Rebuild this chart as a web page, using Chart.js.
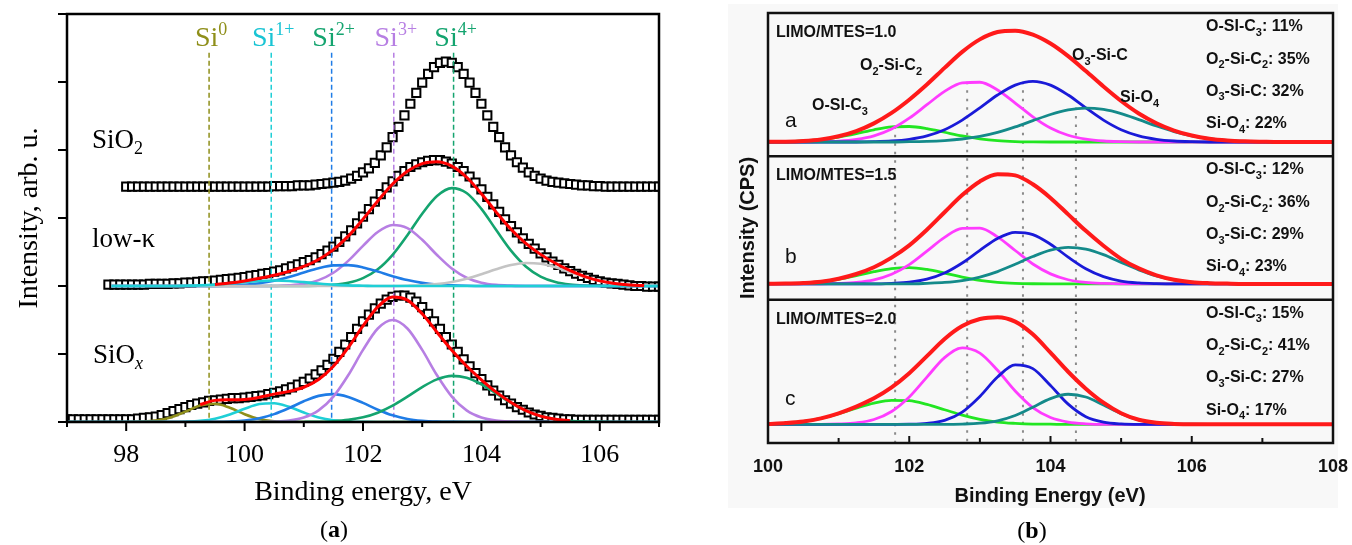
<!DOCTYPE html>
<html>
<head>
<meta charset="utf-8">
<script src="https://cdn.jsdelivr.net/npm/chart.js@4.4.1/dist/chart.umd.min.js"></script>
<style>
  html, body { margin: 0; padding: 0; background: #fff; }
  body { width: 1352px; height: 545px; position: relative; overflow: hidden; }
  #bgB { position: absolute; left: 728px; top: 4px; width: 610px; height: 504px; background: #f8f8f8; }
  canvas { position: absolute; top: 0; }
  #chartA { left: 0; }
  #chartB { left: 680px; }
</style>
</head>
<body>
<div id="bgB"></div>
<canvas id="chartA" width="680" height="545"></canvas>
<canvas id="chartB" width="672" height="545"></canvas>
<script>
// ================= panel (a): Si 2p, three samples =================
// measured points, one every 0.1 eV, heights above each spectrum's own baseline
const sio2Start = 98.0;
const sio2Signal = [
  0, 0, 0, 0, 0, 0, 0, 0, 0, 0,
  0, 0, 0, 0, 0, 0, 0, 0, 0, 0,
  0, 0, 0, 0, 0, 0.01, 0.01, 0.01, 0.01, 0.02,
  0.02, 0.02, 0.03, 0.04, 0.05, 0.06, 0.07, 0.09, 0.12, 0.16,
  0.21, 0.27, 0.35, 0.46, 0.58, 0.73, 0.88, 1.05, 1.22, 1.38,
  1.53, 1.66, 1.76, 1.82, 1.84, 1.82, 1.76, 1.66, 1.53, 1.38,
  1.22, 1.05, 0.88, 0.73, 0.58, 0.46, 0.36, 0.28, 0.21, 0.16,
  0.12, 0.09, 0.07, 0.06, 0.05, 0.04, 0.03, 0.02, 0.02, 0.01,
  0.01, 0, 0, 0, 0, 0, 0, 0, 0, 0,
  0
];
const lowkStart = 97.7;
const lowkSignal = [
  0.02, 0.02, 0.02,
  0.02, 0.02, 0.02, 0.02, 0.03, 0.03, 0.03, 0.03, 0.04, 0.04,
  0.05, 0.05, 0.06, 0.07, 0.07, 0.08, 0.09, 0.10, 0.11, 0.12,
  0.13, 0.15, 0.16, 0.18, 0.19, 0.21, 0.23, 0.26, 0.29, 0.32,
  0.35, 0.38, 0.42, 0.47, 0.52, 0.58, 0.65, 0.73, 0.82, 0.92,
  1.02, 1.13, 1.24, 1.35, 1.45, 1.54, 1.62, 1.69, 1.75, 1.79,
  1.82, 1.84, 1.85, 1.85, 1.83, 1.80, 1.75, 1.69, 1.61, 1.52,
  1.42, 1.31, 1.20, 1.09, 0.98, 0.88, 0.79, 0.70, 0.62, 0.55,
  0.48, 0.42, 0.36, 0.31, 0.26, 0.22, 0.18, 0.15, 0.12, 0.09,
  0.07, 0.05, 0.04, 0.03, 0.02, 0.01, 0, 0, -0.01, -0.01,
  -0.01
];
const sioxStart = 97.0;
const sioxSignal = [
  0.04, 0.04, 0.04, 0.04, 0.04, 0.04, 0.04, 0.04, 0.04, 0.04,
  0.04, 0.04, 0.05, 0.06, 0.07, 0.08, 0.10, 0.13, 0.16, 0.19,
  0.22, 0.25, 0.27, 0.29, 0.31, 0.32, 0.33, 0.34, 0.35, 0.35,
  0.36, 0.37, 0.38, 0.39, 0.41, 0.43, 0.45, 0.48, 0.51, 0.55,
  0.59, 0.64, 0.70, 0.76, 0.84, 0.93, 1.03, 1.14, 1.25, 1.37,
  1.48, 1.58, 1.67, 1.74, 1.80, 1.84, 1.86, 1.86, 1.83, 1.77,
  1.69, 1.59, 1.48, 1.37, 1.25, 1.14, 1.03, 0.92, 0.82, 0.72,
  0.63, 0.54, 0.46, 0.39, 0.32, 0.27, 0.22, 0.18, 0.14, 0.11,
  0.09, 0.07, 0.06, 0.05, 0.04, 0.04, 0.03, 0.03, 0.03, 0.03,
  0.03, 0.03, 0.03, 0.03, 0.03, 0.03, 0.03, 0.03, 0.03, 0.03,
  0.03
];
const sio2Offset = 3.46;
const lowkOffset = 2;
const sioxOffset = 0;

// fitted curves, every 0.25 eV from 97 to 107 (rows = 97, 98, ... 106, then 107)
const gridA = Array.from({ length: 41 }, (_, i) => 97 + i * 0.25);
const lowkFit = [
  null, null, null, null,  null, null, null, null,  null, null, 0.022, 0.044,
  0.075, 0.113, 0.157, 0.215,  0.288, 0.39, 0.535, 0.733,  0.983, 1.251, 1.50, 1.689,
  1.799, 1.827, 1.763, 1.599,  1.357, 1.086, 0.834, 0.627,  0.465, 0.334, 0.225, 0.139,
  0.075, 0.037, 0.016, 0.006,  null
];
const lowkSi1 = [
  null, null, null, 0,  0, 0, 0, 0,  0.004, 0.009, 0.02, 0.037,  0.057, 0.073, 0.08, 0.073,
  0.057, 0.037, 0.02, 0.009,  0.004, 0, 0, 0,  0, 0, 0, 0,  0, 0, 0, 0,  0, 0, 0, 0,  0, 0, 0, 0,  0
];
const lowkSi2 = [
  null, null, null, 0,  0, 0, 0, 0,  0, 0, 0.002, 0.007,  0.018, 0.04, 0.077, 0.132,
  0.199, 0.262, 0.303, 0.307,  0.273, 0.212, 0.145, 0.087,  0.046, 0.021, 0.009, 0.003,
  0, 0, 0, 0,  0, 0, 0, 0,  0, 0, 0, 0,  0
];
const lowkSi3 = [
  null, null, null, 0,  0, 0, 0, 0,  0, 0, 0, 0,  0, 0, 0, 0.01,
  0.032, 0.086, 0.195, 0.37,  0.591, 0.794, 0.897, 0.851,  0.679, 0.456, 0.257, 0.122,
  0.049, 0.016, 0.005, 0,  0, 0, 0, 0,  0, 0, 0, 0,  0
];
const lowkSi4 = [
  null, null, null, 0,  0, 0, 0, 0,  0, 0, 0, 0,  0, 0, 0, 0,
  0.002, 0.005, 0.017, 0.047,  0.115, 0.245, 0.458, 0.746,  1.063, 1.323, 1.439, 1.367,
  1.134, 0.823, 0.52, 0.288,  0.139, 0.059, 0.022, 0.007,  0.002, 0, 0, 0,  0
];
const lowkExtra = [
  null, null, null, 0,  0, 0, 0, 0,  0, 0, 0, 0,  0, 0, 0, 0,  0, 0, 0, 0,
  0, 0, 0, 0.004,  0.011, 0.027, 0.058, 0.107,  0.174, 0.247, 0.309, 0.339,
  0.326, 0.275, 0.203, 0.132,  0.075, 0.037, 0.016, 0.006,  0.002
];
const sioxFit = [
  null, null, null, null,  null, null, null, null,  null, 0.257, 0.318, 0.327,
  0.331, 0.363, 0.41, 0.45,  0.511, 0.626, 0.821, 1.094,  1.412, 1.693, 1.838, 1.792,
  1.591, 1.32, 1.055, 0.823,  0.621, 0.439, 0.286, 0.166,  0.087, 0.041, 0.017, null,
  null, null, null, null,  null
];
const sioxSi0 = [
  0, 0, 0, 0,  0, 0.005, 0.021, 0.067,  0.152, 0.241, 0.268, 0.209,  0.115, 0.044, 0.012, 0.002,
  0, 0, 0, 0,  0, 0, 0, 0,  0, 0, 0, 0,  0, 0, 0, 0,  0, 0, 0, 0,  0, 0, 0, 0,  0
];
const sioxSi1 = [
  0, 0, 0, 0,  0, 0, 0, 0,  0.004, 0.016, 0.048, 0.11,  0.194, 0.264, 0.276, 0.223,
  0.139, 0.067, 0.025, 0.007,  0.002, 0, 0, 0,  0, 0, 0, 0,  0, 0, 0, 0,  0, 0, 0, 0,  0, 0, 0, 0,  0
];
const sioxSi2 = [
  0, 0, 0, 0,  0, 0, 0, 0,  0, 0, 0.002, 0.008,  0.022, 0.055, 0.116, 0.204,
  0.305, 0.384, 0.41, 0.369,  0.281, 0.181, 0.098, 0.045,  0.018, 0.006, 0.002, 0,
  0, 0, 0, 0,  0, 0, 0, 0,  0, 0, 0, 0,  0
];
const sioxSi3 = [
  0, 0, 0, 0,  0, 0, 0, 0,  0, 0, 0, 0,  0, 0, 0.006, 0.021,
  0.066, 0.171, 0.374, 0.687,  1.06, 1.375, 1.5, 1.375,  1.06, 0.687, 0.374, 0.171,
  0.066, 0.021, 0.006, 0,  0, 0, 0, 0,  0, 0, 0, 0,  0
];
const sioxSi4 = [
  0, 0, 0, 0,  0, 0, 0, 0,  0, 0, 0, 0,  0, 0, 0, 0,
  0.001, 0.004, 0.012, 0.031,  0.069, 0.137, 0.24, 0.372,  0.513, 0.627, 0.679, 0.652,
  0.555, 0.418, 0.28, 0.166,  0.087, 0.041, 0.017, 0.006,  0.002, 0, 0, 0,  0
];

const stateNames = ['0', '1+', '2+', '3+', '4+'];
const stateEnergies = [99.4, 100.45, 101.47, 102.52, 103.53];
const stateLineTop = 5.43;
const xMajorA = [98, 100, 102, 104, 106];
const xMinorA = [97, 99, 101, 103, 105, 107];
const yTicksA = [0, 1, 2, 3, 4, 5, 6];

// ================= panel (b): three LIMO/MTES ratios =================
const gridB = Array.from({ length: 33 }, (_, i) => 100 + i * 0.25);
const ratioLabels = ['LIMO/MTES=1.0', 'LIMO/MTES=1.5', 'LIMO/MTES=2.0'];
const panelLetters = ['a', 'b', 'c'];
const shareOSiC3 = [11, 12, 15];
const shareO2SiC2 = [35, 36, 41];
const shareO3SiC = [32, 29, 27];
const shareSiO4 = [22, 23, 17];
const baseB = [2.10, 1.11, 0.13];

// rows = 100, 101, ... 107 eV (4 points each), then 108
const fitB = [
  [0.001, 0.002, 0.007, 0.018, 0.04, 0.076, 0.13, 0.203, 0.295, 0.401, 0.517, 0.629,
   0.716, 0.767, 0.777, 0.749, 0.687, 0.599, 0.495, 0.387, 0.286, 0.199, 0.131, 0.08,
   0.045, 0.023, 0.011, 0.005, 0.002, 0, 0, 0, 0],
  [0.001, 0.002, 0.006, 0.015, 0.036, 0.069, 0.116, 0.183, 0.269, 0.378, 0.5, 0.62,
   0.715, 0.765, 0.757, 0.695, 0.6, 0.485, 0.37, 0.266, 0.175, 0.108, 0.06, 0.029,
   0.012, 0.005, 0.002, 0, 0, 0, 0, 0, 0],
  [0.003, 0.009, 0.02, 0.042, 0.077, 0.124, 0.182, 0.258, 0.357, 0.476, 0.596, 0.686,
   0.735, 0.748, 0.717, 0.628, 0.5, 0.367, 0.249, 0.151, 0.078, 0.032, 0.011, 0.003,
   0, 0, 0, 0, 0, 0, 0, 0, 0]
];
const oSiC3B = [
  [0.001, 0.002, 0.007, 0.016, 0.034, 0.058, 0.085, 0.105, 0.108, 0.094, 0.068, 0.042,
   0.022, 0.009, 0.003, 0.001, 0, 0, 0, 0, 0, 0, 0, 0, 0, 0, 0, 0, 0, 0, 0, 0, 0],
  [0.001, 0.002, 0.006, 0.015, 0.032, 0.057, 0.085, 0.107, 0.114, 0.101, 0.076, 0.048,
   0.025, 0.011, 0.004, 0.001, 0, 0, 0, 0, 0, 0, 0, 0, 0, 0, 0, 0, 0, 0, 0, 0, 0],
  [0.003, 0.009, 0.02, 0.042, 0.074, 0.113, 0.148, 0.168, 0.165, 0.139, 0.102, 0.064,
   0.035, 0.016, 0.007, 0.002, 0.001, 0, 0, 0, 0, 0, 0, 0, 0, 0, 0, 0, 0, 0, 0, 0, 0]
];
const o2SiC2B = [
  [0, 0, 0, 0.002, 0.006, 0.018, 0.043, 0.091, 0.166, 0.26, 0.353, 0.413,
   0.417, 0.363, 0.272, 0.176, 0.098, 0.047, 0.02, 0.007, 0.002, 0, 0, 0,
   0, 0, 0, 0, 0, 0, 0, 0, 0],
  [0, 0, 0, 0, 0.003, 0.01, 0.028, 0.067, 0.135, 0.229, 0.325, 0.388,
   0.389, 0.328, 0.233, 0.139, 0.07, 0.029, 0.01, 0.003, 0, 0, 0, 0,
   0, 0, 0, 0, 0, 0, 0, 0, 0],
  [0, 0, 0, 0, 0.003, 0.011, 0.034, 0.09, 0.191, 0.33, 0.466, 0.534,
   0.497, 0.377, 0.233, 0.117, 0.048, 0.016, 0.004, 0, 0, 0, 0, 0,
   0, 0, 0, 0, 0, 0, 0, 0, 0]
];
const o3SiCB = [
  [0, 0, 0, 0, 0, 0, 0.002, 0.007, 0.019, 0.043, 0.086, 0.153,
   0.238, 0.328, 0.397, 0.423, 0.397, 0.328, 0.238, 0.153, 0.086, 0.043, 0.019, 0.007,
   0.002, 0, 0, 0, 0, 0, 0, 0, 0],
  [0, 0, 0, 0, 0, 0, 0, 0.004, 0.012, 0.033, 0.076, 0.146,
   0.234, 0.317, 0.36, 0.344, 0.277, 0.187, 0.106, 0.051, 0.02, 0.007, 0.002, 0,
   0, 0, 0, 0, 0, 0, 0, 0, 0],
  [0, 0, 0, 0, 0, 0, 0, 0, 0.001, 0.007, 0.028, 0.086,
   0.195, 0.33, 0.415, 0.389, 0.271, 0.141, 0.054, 0.016, 0.003, 0, 0, 0,
   0, 0, 0, 0, 0, 0, 0, 0, 0]
];
const siO4B = [
  [0, 0, 0, 0, 0, 0, 0, 0, 0.002, 0.004, 0.01, 0.021,
   0.039, 0.067, 0.105, 0.149, 0.192, 0.224, 0.237, 0.227, 0.198, 0.156, 0.112, 0.073,
   0.043, 0.023, 0.011, 0.005, 0.002, 0, 0, 0, 0],
  [0, 0, 0, 0, 0, 0, 0, 0, 0, 0.004, 0.01, 0.023,
   0.048, 0.086, 0.137, 0.191, 0.235, 0.255, 0.243, 0.204, 0.15, 0.098, 0.056, 0.028,
   0.012, 0.005, 0.002, 0, 0, 0, 0, 0, 0],
  [0, 0, 0, 0, 0, 0, 0, 0, 0, 0, 0, 0.002,
   0.008, 0.025, 0.062, 0.12, 0.18, 0.21, 0.191, 0.135, 0.075, 0.032, 0.011, 0.003,
   0.001, 0, 0, 0, 0, 0, 0, 0, 0]
];
const guideEnergiesB = [101.8, 102.82, 103.61, 104.36];
const guideTopsB = [2.21, 2.52, 2.52, 2.34];
const xMajorB = [100, 102, 104, 106, 108];
const xMinorB = [101, 103, 105, 107];

// ---------------- helpers ----------------
const SERIF = '"Liberation Serif", "Times New Roman", serif';
const SANS = '"Liberation Sans", Arial, sans-serif';

function toPoints(xs, ys, offset) {
  return xs.map((x, i) => ({ x: x, y: ys[i] === null ? null : ys[i] + offset }));
}
function stepPoints(start, ys, offset) {
  return ys.map((y, i) => ({ x: +(start + i * 0.1).toFixed(2), y: y + offset }));
}
function curve(data, color, width, order) {
  return {
    data: data, borderColor: color, borderWidth: width, pointRadius: 0,
    cubicInterpolationMode: 'monotone', fill: false, order: order
  };
}
function markers(data) {
  return {
    data: data, showLine: false, pointStyle: 'rect', pointRadius: 5.8,
    pointBackgroundColor: '#ffffff', pointBorderColor: '#000000', pointBorderWidth: 2,
    order: 10
  };
}
function drawRich(ctx, parts, x, y, o) {
  const small = Math.round(o.size * 0.66);
  const fontFor = (k) => (k === 'subit' ? 'italic ' : '') + (o.weight || 'normal') + ' ' +
    (k ? small : o.size) + 'px ' + o.family;
  let total = 0;
  for (const [t, k] of parts) { ctx.font = fontFor(k); total += ctx.measureText(t).width; }
  let cx = o.align === 'center' ? x - total / 2 : x;
  ctx.fillStyle = o.color;
  ctx.textAlign = 'left';
  ctx.textBaseline = 'alphabetic';
  for (const [t, k] of parts) {
    ctx.font = fontFor(k);
    let dy = 0;
    if (k === 'sup') dy = -o.size * 0.38;
    if (k === 'sub' || k === 'subit') dy = o.size * (o.subDrop || 0.22);
    ctx.fillText(t, cx, y + dy);
    cx += ctx.measureText(t).width;
  }
}

// ---------------- panel (a) chart ----------------
const colA = {
  fit: '#ff0000', si0: '#8f8f1a', si1: '#1fcfd6', si2: '#1f7ce6', si3: '#b77fe3',
  si4: '#14a46f', extra: '#c4c4c4'
};
const guideColorsA = [colA.si0, colA.si1, colA.si2, colA.si3, colA.si4];
const labelColorsA = [colA.si0, '#19c4d4', colA.si4, colA.si3, colA.si4];

const datasetsA = [];
stateEnergies.forEach((e, i) => {
  datasetsA.push({
    data: [{ x: e, y: stateLineTop }, { x: e, y: 0 }], borderColor: guideColorsA[i],
    borderWidth: 1.5, borderDash: [5, 3], pointRadius: 0, order: 9
  });
});
datasetsA.push(markers(stepPoints(sio2Start, sio2Signal, sio2Offset)));
datasetsA.push(markers(stepPoints(lowkStart, lowkSignal, lowkOffset)));
datasetsA.push(markers(stepPoints(sioxStart, sioxSignal, sioxOffset)));
datasetsA.push(curve(toPoints(gridA, lowkSi4, lowkOffset), colA.si4, 2.6, 7));
datasetsA.push(curve(toPoints(gridA, lowkSi3, lowkOffset), colA.si3, 2.6, 6));
datasetsA.push(curve(toPoints(gridA, lowkSi2, lowkOffset), colA.si2, 2.6, 5));
datasetsA.push(curve(toPoints(gridA, lowkExtra, lowkOffset), colA.extra, 2.6, 4));
datasetsA.push(curve(toPoints(gridA, lowkSi1, lowkOffset), colA.si1, 2.6, 3));
datasetsA.push(curve(toPoints(gridA, sioxSi0, sioxOffset), colA.si0, 2.6, 7));
datasetsA.push(curve(toPoints(gridA, sioxSi1, sioxOffset), colA.si1, 2.6, 6));
datasetsA.push(curve(toPoints(gridA, sioxSi2, sioxOffset), colA.si2, 2.6, 5));
datasetsA.push(curve(toPoints(gridA, sioxSi3, sioxOffset), colA.si3, 2.6, 4));
datasetsA.push(curve(toPoints(gridA, sioxSi4, sioxOffset), colA.si4, 2.6, 3));
datasetsA.push(curve(toPoints(gridA, lowkFit, lowkOffset), colA.fit, 3, 1));
datasetsA.push(curve(toPoints(gridA, sioxFit, sioxOffset), colA.fit, 3, 1));

const decorA = {
  id: 'decorA',
  afterDraw(chart) {
    const { ctx, chartArea: area, scales: { x: sx, y: sy } } = chart;
    ctx.save();
    ctx.strokeStyle = '#000';
    ctx.lineWidth = 2.5;
    ctx.strokeRect(area.left, area.top, area.right - area.left, area.bottom - area.top);
    ctx.lineWidth = 2;
    ctx.beginPath();
    xMajorA.forEach(v => { const p = sx.getPixelForValue(v); ctx.moveTo(p, area.bottom); ctx.lineTo(p, area.bottom + 9); });
    xMinorA.forEach(v => { const p = sx.getPixelForValue(v); ctx.moveTo(p, area.bottom); ctx.lineTo(p, area.bottom + 5); });
    yTicksA.forEach(v => { const p = sy.getPixelForValue(v); ctx.moveTo(area.left, p); ctx.lineTo(area.left - 9, p); });
    ctx.stroke();

    ctx.fillStyle = '#000';
    ctx.font = '26px ' + SERIF;
    ctx.textAlign = 'center';
    ctx.textBaseline = 'alphabetic';
    xMajorA.forEach(v => ctx.fillText(String(v), sx.getPixelForValue(v), 462));
    ctx.font = '28px ' + SERIF;
    ctx.fillText('Binding energy, eV', (area.left + area.right) / 2, 500);

    ctx.save();
    ctx.translate(30, (area.top + area.bottom) / 2);
    ctx.rotate(-Math.PI / 2);
    ctx.textBaseline = 'middle';
    ctx.fillText('Intensity, arb. u.', 0, 0);
    ctx.restore();

    stateEnergies.forEach((e, i) => {
      drawRich(ctx, [['Si', ''], [stateNames[i], 'sup']], sx.getPixelForValue(e) + 2, 46,
        { size: 28, family: SERIF, color: labelColorsA[i], align: 'center' });
    });
    drawRich(ctx, [['SiO', ''], ['2', 'sub']], 92, 148, { size: 27, family: SERIF, color: '#000' });
    drawRich(ctx, [['low-\u03ba', '']], 92, 247, { size: 27, family: SERIF, color: '#000' });
    drawRich(ctx, [['SiO', ''], ['x', 'subit']], 93, 363, { size: 27, family: SERIF, color: '#000' });

    // (a)
    ctx.textAlign = 'left';
    ctx.font = '24px ' + SERIF;
    const w1 = ctx.measureText('(').width;
    ctx.font = 'bold 24px ' + SERIF;
    const w2 = ctx.measureText('a').width;
    ctx.font = '24px ' + SERIF;
    const w3 = ctx.measureText(')').width;
    let cx = 334 - (w1 + w2 + w3) / 2;
    ctx.fillText('(', cx, 537);
    ctx.font = 'bold 24px ' + SERIF;
    ctx.fillText('a', cx + w1, 537);
    ctx.font = '24px ' + SERIF;
    ctx.fillText(')', cx + w1 + w2, 537);
    ctx.restore();
  }
};

new Chart(document.getElementById('chartA'), {
  type: 'line',
  data: { datasets: datasetsA },
  options: {
    responsive: false,
    animation: false,
    devicePixelRatio: 1,
    layout: { padding: { left: 67, right: 21, top: 14, bottom: 123 } },
    scales: {
      x: { type: 'linear', min: 97, max: 107, display: false },
      y: { min: 0, max: 6, display: false }
    },
    plugins: { legend: { display: false }, tooltip: { enabled: false } }
  },
  plugins: [decorA]
});

// ---------------- panel (b) chart ----------------
const colB = { fit: '#ff1a1a', oSiC3: '#22e622', o2SiC2: '#ff3cff', o3SiC: '#1a1ad8', siO4: '#148a8a' };
const datasetsB = [];
guideEnergiesB.forEach((e, i) => {
  datasetsB.push({
    data: [{ x: e, y: guideTopsB[i] }, { x: e, y: 0 }], borderColor: '#8a8a8a',
    borderWidth: 2, borderDash: [2.5, 6], pointRadius: 0, order: 10
  });
});
for (let s = 0; s < 3; s++) {
  datasetsB.push(curve(toPoints(gridB, oSiC3B[s], baseB[s]), colB.oSiC3, 2.8, 5));
  datasetsB.push(curve(toPoints(gridB, o2SiC2B[s], baseB[s]), colB.o2SiC2, 2.8, 4));
  datasetsB.push(curve(toPoints(gridB, o3SiCB[s], baseB[s]), colB.o3SiC, 2.8, 3));
  datasetsB.push(curve(toPoints(gridB, siO4B[s], baseB[s]), colB.siO4, 2.8, 2));
  datasetsB.push(curve(toPoints(gridB, fitB[s], baseB[s]), colB.fit, 4, 1));
}

const decorB = {
  id: 'decorB',
  afterDraw(chart) {
    const { ctx, chartArea: area, scales: { x: sx, y: sy } } = chart;
    ctx.save();
    ctx.strokeStyle = '#111';
    ctx.lineWidth = 2.5;
    ctx.strokeRect(area.left, area.top, area.right - area.left, area.bottom - area.top);
    ctx.beginPath();
    [1, 2].forEach(v => { const p = sy.getPixelForValue(v); ctx.moveTo(area.left, p); ctx.lineTo(area.right, p); });
    ctx.stroke();
    ctx.lineWidth = 2;
    ctx.beginPath();
    xMajorB.forEach(v => { const p = sx.getPixelForValue(v); ctx.moveTo(p, area.bottom); ctx.lineTo(p, area.bottom - 7); });
    xMinorB.forEach(v => { const p = sx.getPixelForValue(v); ctx.moveTo(p, area.bottom); ctx.lineTo(p, area.bottom - 5); });
    ctx.stroke();

    ctx.fillStyle = '#111';
    ctx.textAlign = 'center';
    ctx.textBaseline = 'alphabetic';
    ctx.font = 'bold 18px ' + SANS;
    xMajorB.forEach(v => ctx.fillText(String(v), sx.getPixelForValue(v), 472));
    ctx.font = 'bold 20px ' + SANS;
    ctx.fillText('Binding Energy (eV)', 370, 502);
    ctx.save();
    ctx.translate(68, (area.top + area.bottom) / 2);
    ctx.rotate(-Math.PI / 2);
    ctx.textBaseline = 'middle';
    ctx.fillText('Intensity (CPS)', 0, 0);
    ctx.restore();

    const letterDrop = [114, 107, 105];
    const txt = { size: 16, family: SANS, weight: 'bold', color: '#111', subDrop: 0.3 };
    for (let s = 0; s < 3; s++) {
      const top = sy.getPixelForValue(3 - s);
      drawRich(ctx, [[ratioLabels[s], '']], area.left + 8, top + 24, txt);
      ctx.font = '21px ' + SANS;
      ctx.textAlign = 'left';
      ctx.fillStyle = '#111';
      ctx.fillText(panelLetters[s], area.left + 17, top + letterDrop[s]);
      const lx = area.left + 438;
      const ly = top + 18;
      drawRich(ctx, [['O-SI-C', ''], ['3', 'sub'], [': ' + shareOSiC3[s] + '%', '']], lx, ly, txt);
      drawRich(ctx, [['O', ''], ['2', 'sub'], ['-Si-C', ''], ['2', 'sub'], [': ' + shareO2SiC2[s] + '%', '']], lx, ly + 32.5, txt);
      drawRich(ctx, [['O', ''], ['3', 'sub'], ['-Si-C: ' + shareO3SiC[s] + '%', '']], lx, ly + 64.5, txt);
      drawRich(ctx, [['Si-O', ''], ['4', 'sub'], [': ' + shareSiO4[s] + '%', '']], lx, ly + 97, txt);
    }
    drawRich(ctx, [['O', ''], ['2', 'sub'], ['-Si-C', ''], ['2', 'sub']], area.left + 92, 70, txt);
    drawRich(ctx, [['O-SI-C', ''], ['3', 'sub']], area.left + 44, 110, txt);
    drawRich(ctx, [['O', ''], ['3', 'sub'], ['-Si-C', '']], area.left + 304, 60, txt);
    drawRich(ctx, [['Si-O', ''], ['4', 'sub']], area.left + 352, 102, txt);

    // (b)
    ctx.fillStyle = '#000';
    ctx.textAlign = 'left';
    ctx.font = '24px ' + SERIF;
    const w1 = ctx.measureText('(').width;
    ctx.font = 'bold 24px ' + SERIF;
    const w2 = ctx.measureText('b').width;
    ctx.font = '24px ' + SERIF;
    const w3 = ctx.measureText(')').width;
    const cx = 352 - (w1 + w2 + w3) / 2;
    ctx.fillText('(', cx, 538);
    ctx.font = 'bold 24px ' + SERIF;
    ctx.fillText('b', cx + w1, 538);
    ctx.font = '24px ' + SERIF;
    ctx.fillText(')', cx + w1 + w2, 538);
    ctx.restore();
  }
};

new Chart(document.getElementById('chartB'), {
  type: 'line',
  data: { datasets: datasetsB },
  options: {
    responsive: false,
    animation: false,
    devicePixelRatio: 1,
    layout: { padding: { left: 88, right: 19, top: 13, bottom: 102 } },
    scales: {
      x: { type: 'linear', min: 100, max: 108, display: false },
      y: { min: 0, max: 3, display: false }
    },
    plugins: { legend: { display: false }, tooltip: { enabled: false } }
  },
  plugins: [decorB]
});
</script>
</body>
</html>
